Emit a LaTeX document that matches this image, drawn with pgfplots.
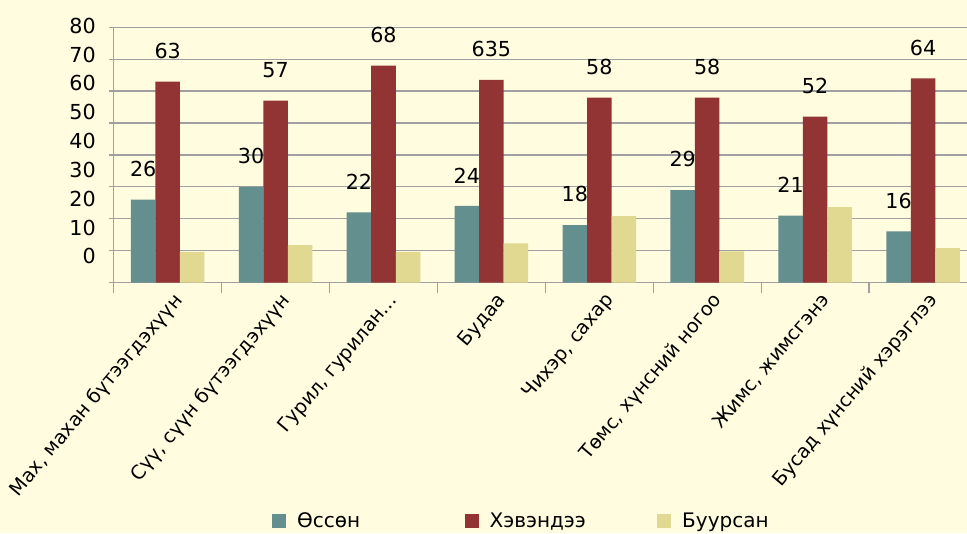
\documentclass[border=0pt]{standalone}
\usepackage{fontspec}
\setmainfont{DejaVu Sans}
\usepackage{pgfplots}
\pgfplotsset{compat=1.18}
\definecolor{bg}{RGB}{255,252,223}
\definecolor{cA}{RGB}{99,143,143}
\definecolor{cB}{RGB}{147,52,52}
\definecolor{cC}{RGB}{225,216,145}
\definecolor{gridc}{RGB}{160,160,160}
\pagecolor{bg}
\begin{document}
\begin{tikzpicture}[x=1pt,y=1pt]
\begin{axis}[
  set layers=standard,
  at={(0,0)}, anchor=south west,
  scale only axis, width=647.5pt, height=191.4pt,
  xmin=-0.5, xmax=7.5, ymin=0, ymax=80,
  axis x line=bottom, axis y line=left,
  axis line style={gridc, line width=1pt, -},
  ytick={0,10,...,80},
  minor ytick={0,10,...,80},
  ymajorgrids, major grid style={gridc, line width=1pt},
  tick align=outside, major tick length=0pt, minor tick length=3.75pt,
  tick style={gridc, line width=1pt},
  xtick={0,...,7},
  extra x ticks={-0.5,0.5,...,7.5}, extra x tick labels={},
  extra x tick style={major tick length=7.5pt, grid=none},
  xticklabels={{Мах, махан бүтээгдэхүүн},{Сүү, сүүн бүтээгдэхүүн},{Гурил, гурилан…},{Будаа},{Чихэр, сахар},{Төмс, хүнсний ногоо},{Жимс, жимсгэнэ},{Бусад хүнсний хэрэглээ}},
  xticklabel style={xshift=3pt, yshift=-6.5pt, rotate=50, anchor=north east, inner sep=0pt, font=\fontsize{14.4}{16}\selectfont},
  /pgf/number format/assume math mode=true,
  yticklabel style={anchor=east, inner sep=0pt, xshift=-13.3pt, yshift={(19.6-2.3*\ticknum)*1pt}, font=\fontsize{15.5}{17}\selectfont},
  ybar=0pt, bar width=18.4pt,
  every node near coord/.append style={font=\fontsize{15.5}{17}\selectfont, inner sep=0pt, yshift=17pt, text=black},
  legend columns=3,
  legend style={at={(0.1834,-0.934)}, anchor=west, draw=none, fill=none, inner sep=0pt, outer sep=0pt,
    font=\fontsize{15}{17}\selectfont, nodes={inner sep=0pt},
    /tikz/every odd column/.append style={column sep=8.25pt}},
]
\addplot[fill=cA, draw=none, bar shift=-18.4pt, point meta=explicit symbolic, nodes near coords={\pgfplotspointmeta},
  legend image code/.code={\fill[cA] (0pt,-5.25pt) rectangle (10.5pt,5.25pt);}]
  coordinates {(0,26)[26] (1,30)[30] (2,22)[22] (3,24)[24] (4,18)[18] (5,29)[29] (6,21)[21] (7,16)[16]};
\addlegendentry{\makebox[125.7pt][l]{Өссөн}}
\addplot[fill=cB, draw=none, bar shift=0pt, point meta=explicit symbolic, nodes near coords={\pgfplotspointmeta},
  legend image code/.code={\fill[cB] (0pt,-5.25pt) rectangle (10.5pt,5.25pt);}]
  coordinates {(0,63)[63] (1,57)[57] (2,68)[68] (3,63.5)[635] (4,58)[58] (5,58)[58] (6,52)[52] (7,64)[64]};
\addlegendentry{\makebox[125.7pt][l]{Хэвэндээ}}
\addplot[fill=cC, draw=none, bar shift=18.4pt,
  legend image code/.code={\fill[cC] (0pt,-5.25pt) rectangle (10.5pt,5.25pt);}]
  coordinates {(0,9.6) (1,11.7) (2,9.6) (3,12.3) (4,20.8) (5,9.8) (6,23.6) (7,10.8)};
\addlegendentry{\makebox[125.7pt][l]{Буурсан}}
\end{axis}
\pgfresetboundingbox
\useasboundingbox (-85.3,-187.9) rectangle (640,211.9);
\end{tikzpicture}
\end{document}
